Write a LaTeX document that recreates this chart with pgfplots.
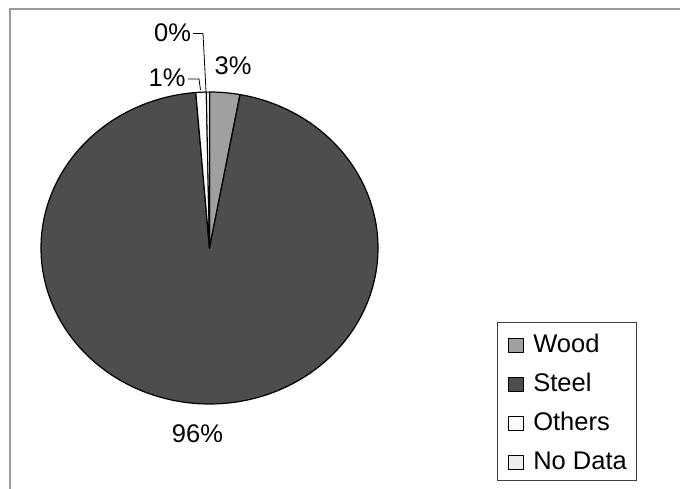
\documentclass[border=0pt]{standalone}
\usepackage{pgfplots}
\pgfplotsset{compat=1.18}
\usepackage{pgfplotstable}
\usepackage{fontspec}
\setmainfont{Liberation Sans}
\definecolor{woodc}{HTML}{A0A0A0}
\definecolor{steelc}{HTML}{4D4D4D}
\definecolor{othersc}{HTML}{FAFAFA}
\definecolor{nodatac}{HTML}{EEEEEE}
\definecolor{framec}{HTML}{9A9A9A}

\pgfplotstableread{
label value
Wood 2.9
Steel 95.8
Others 1.0
NoData 0.3
}\piedata

\begin{document}
\begin{tikzpicture}
\pgfplotstablegetelem{0}{value}\of\piedata \pgfmathsetmacro\vA{\pgfplotsretval}
\pgfplotstablegetelem{1}{value}\of\piedata \pgfmathsetmacro\vB{\pgfplotsretval}
\pgfplotstablegetelem{2}{value}\of\piedata \pgfmathsetmacro\vC{\pgfplotsretval}
\pgfplotstablegetelem{3}{value}\of\piedata \pgfmathsetmacro\vD{\pgfplotsretval}
\pgfmathsetmacro\aA{90}
\pgfmathsetmacro\aB{\aA-3.6*\vA}
\pgfmathsetmacro\aC{\aB-3.6*\vB}
\pgfmathsetmacro\aD{\aC-3.6*\vC}
\pgfmathsetmacro\aE{\aD-3.6*\vD}
\def\cx{209.5}\def\cy{240}\def\rx{168.5}\def\ry{156}
\begin{axis}[
  scale only axis, width=680pt, height=488pt,
  xmin=0, xmax=680, ymin=0, ymax=488,
  hide axis, clip=false,
  legend cell align=left,
  legend image code/.code={\draw[#1,draw=black,line width=0.8pt] (0pt,-9pt) rectangle (15pt,5pt);},
  legend style={at={(0.7309,0.01434)}, anchor=south west,
    draw=black!75, line width=1pt, fill=white,
    inner xsep=10pt, inner ysep=3pt, row sep=4pt,
    font=\fontsize{25.5}{30}\selectfont,
    nodes={inner sep=0pt, text height=27pt, text depth=8pt},
    /tikz/every odd column/.append style={column sep=10pt}},
]
\addplot[fill=woodc, draw=black, line width=1.2pt, line join=round, domain=\aB:\aA, samples=20, variable=\t]
  ({\cx+\rx*cos(\t)},{\cy+\ry*sin(\t)}) -- (\cx,\cy) -- cycle;
\addplot[fill=steelc, draw=black, line width=1.2pt, line join=round, domain=\aC:\aB, samples=240, variable=\t]
  ({\cx+\rx*cos(\t)},{\cy+\ry*sin(\t)}) -- (\cx,\cy) -- cycle;
\addplot[fill=othersc, draw=black, line width=1.2pt, line join=round, domain=\aD:\aC, samples=10, variable=\t]
  ({\cx+\rx*cos(\t)},{\cy+\ry*sin(\t)}) -- (\cx,\cy) -- cycle;
\addplot[fill=nodatac, draw=black, line width=1.0pt, line join=round, domain=\aE:\aD, samples=5, variable=\t]
  ({\cx+\rx*cos(\t)},{\cy+\ry*sin(\t)}) -- (\cx,\cy) -- cycle;
\legend{Wood, Steel, Others, No Data}
% leader lines
\addplot[black, line width=0.8pt, forget plot] coordinates {(193,454.5) (203,454.5) (206,397)};
\addplot[black, line width=0.8pt, forget plot] coordinates {(188,409) (199,409) (200.5,398)};
% labels
\node[anchor=base, font=\fontsize{25.5}{30}\selectfont] at (233,413) {3\%};
\node[anchor=base, font=\fontsize{25.5}{30}\selectfont] at (172.5,446) {0\%};
\node[anchor=base, font=\fontsize{25.5}{30}\selectfont] at (167,401) {1\%};
\node[anchor=base, font=\fontsize{25.5}{30}\selectfont] at (197.5,46) {96\%};
% chart frame
\draw[framec, line width=1.5pt] (10,-20) -- (10,479) -- (700,479);
\end{axis}
\pgfresetboundingbox
\path[use as bounding box] (0,0) rectangle (680pt,488pt);
\end{tikzpicture}
\end{document}
